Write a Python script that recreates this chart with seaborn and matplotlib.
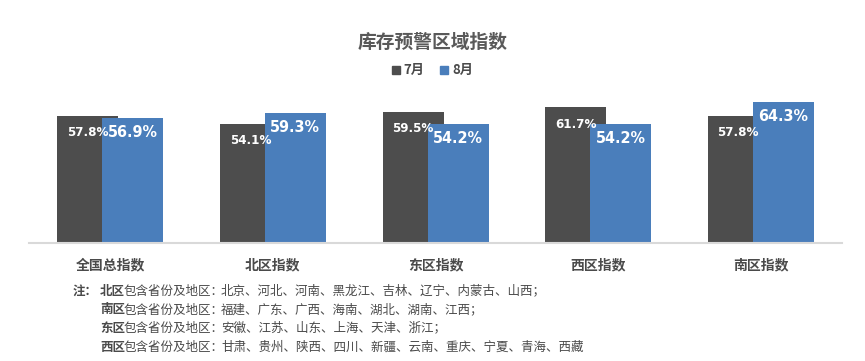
import matplotlib
matplotlib.use("Agg")
import matplotlib.pyplot as plt
from matplotlib.patches import Patch
import numpy as np
import pandas as pd
import seaborn as sns

# 数据
regions = ["全国总指数", "北区指数", "东区指数", "西区指数", "南区指数"]
months = ["7月", "8月"]
jul = [57.8, 54.1, 59.5, 61.7, 57.8]
aug = [56.9, 59.3, 54.2, 54.2, 64.3]

notes_head = ["北区", "南区", "东区", "西区"]
notes_body = [
    "北京、河北、河南、黑龙江、吉林、辽宁、内蒙古、山西；",
    "福建、广东、广西、海南、湖北、湖南、江西；",
    "安徽、江苏、山东、上海、天津、浙江；",
    "甘肃、贵州、陕西、四川、新疆、云南、重庆、宁夏、青海、西藏",
]

df = pd.DataFrame({
    "区域": regions * 2,
    "月份": [months[0]] * 5 + [months[1]] * 5,
    "指数": jul + aug,
})

sns.set_theme(style="white")
plt.rcParams["font.family"] = ["Noto Sans CJK SC", "DejaVu Sans"]

gray = "#4D4D4D"
blue = "#4A7EBB"
txt = "#4A4A4A"

fig = plt.figure(figsize=(8.65, 3.61), dpi=100)
ax = fig.add_axes([0.0335, 0.327, 0.94, 0.426])

sns.barplot(data=df, x="区域", y="指数", hue="月份", order=regions,
            hue_order=months, palette=[gray, blue], width=0.554, gap=-0.354,
            legend=False, ax=ax, edgecolor="none", saturation=1)

ax.set_ylim(0, 70)
ax.set_xlim(-0.5, 4.5)
ax.set_ylabel("")
ax.set_xlabel("")
ax.set_yticks([])
for s in ["left", "right", "top"]:
    ax.spines[s].set_visible(False)
ax.spines["bottom"].set_color("#D9D9D9")
ax.spines["bottom"].set_linewidth(1.5)
ax.set_xticks(range(5))
ax.set_xticklabels(regions, fontsize=10, fontweight="bold", color=txt)
ax.tick_params(axis="x", which="major", length=0, pad=11)
ax.set_xticks(np.arange(-0.5, 5, 1), minor=True)
ax.tick_params(axis="x", which="minor", length=5, color="#D9D9D9", width=1.2)

# 数据标签
lab_font = ["DejaVu Sans"]
for i, bar in enumerate(ax.containers[0]):
    ax.text(bar.get_x() + bar.get_width() * 0.5, bar.get_height() - 4.6,
            f"{jul[i]}%", ha="center", va="top", color="white",
            fontsize=9.5, fontweight="bold", family=lab_font,
            fontstretch="condensed")
for i, bar in enumerate(ax.containers[1]):
    ax.text(bar.get_x() + bar.get_width() * 0.5, bar.get_height() - 3.2,
            f"{aug[i]}%", ha="center", va="top", color="white",
            fontsize=11.5, fontweight="bold", family=lab_font,
            fontstretch="condensed")

fig.text(0.5, 0.883, "库存预警区域指数", ha="center", va="center",
         fontsize=13.5, fontweight="bold", color="#595959")

handles = [Patch(color=gray), Patch(color=blue)]
fig.legend(handles, months, loc="center", bbox_to_anchor=(0.5, 0.805), ncol=2,
           frameon=False, prop={"weight": "bold", "size": 9.5},
           handlelength=0.6, handleheight=0.6, handletextpad=0.3,
           columnspacing=1.2, labelcolor=txt)

# 注释
ys = [291, 310, 328, 347]
fig.text(73 / 865, 1 - ys[0] / 361, "注：", ha="left", va="center",
         fontsize=9, fontweight="bold", color=txt)
for y, h, b in zip(ys, notes_head, notes_body):
    fy = 1 - y / 361
    fig.text(100 / 865, fy, h, ha="left", va="center", fontsize=9,
             fontweight="bold", color=txt)
    fig.text(124 / 865, fy, "包含省份及地区：", ha="left", va="center",
             fontsize=9, color=txt)
    fig.text(221 / 865, fy, b, ha="left", va="center", fontsize=9,
             color=txt)

fig.savefig("out.png", dpi=100)
